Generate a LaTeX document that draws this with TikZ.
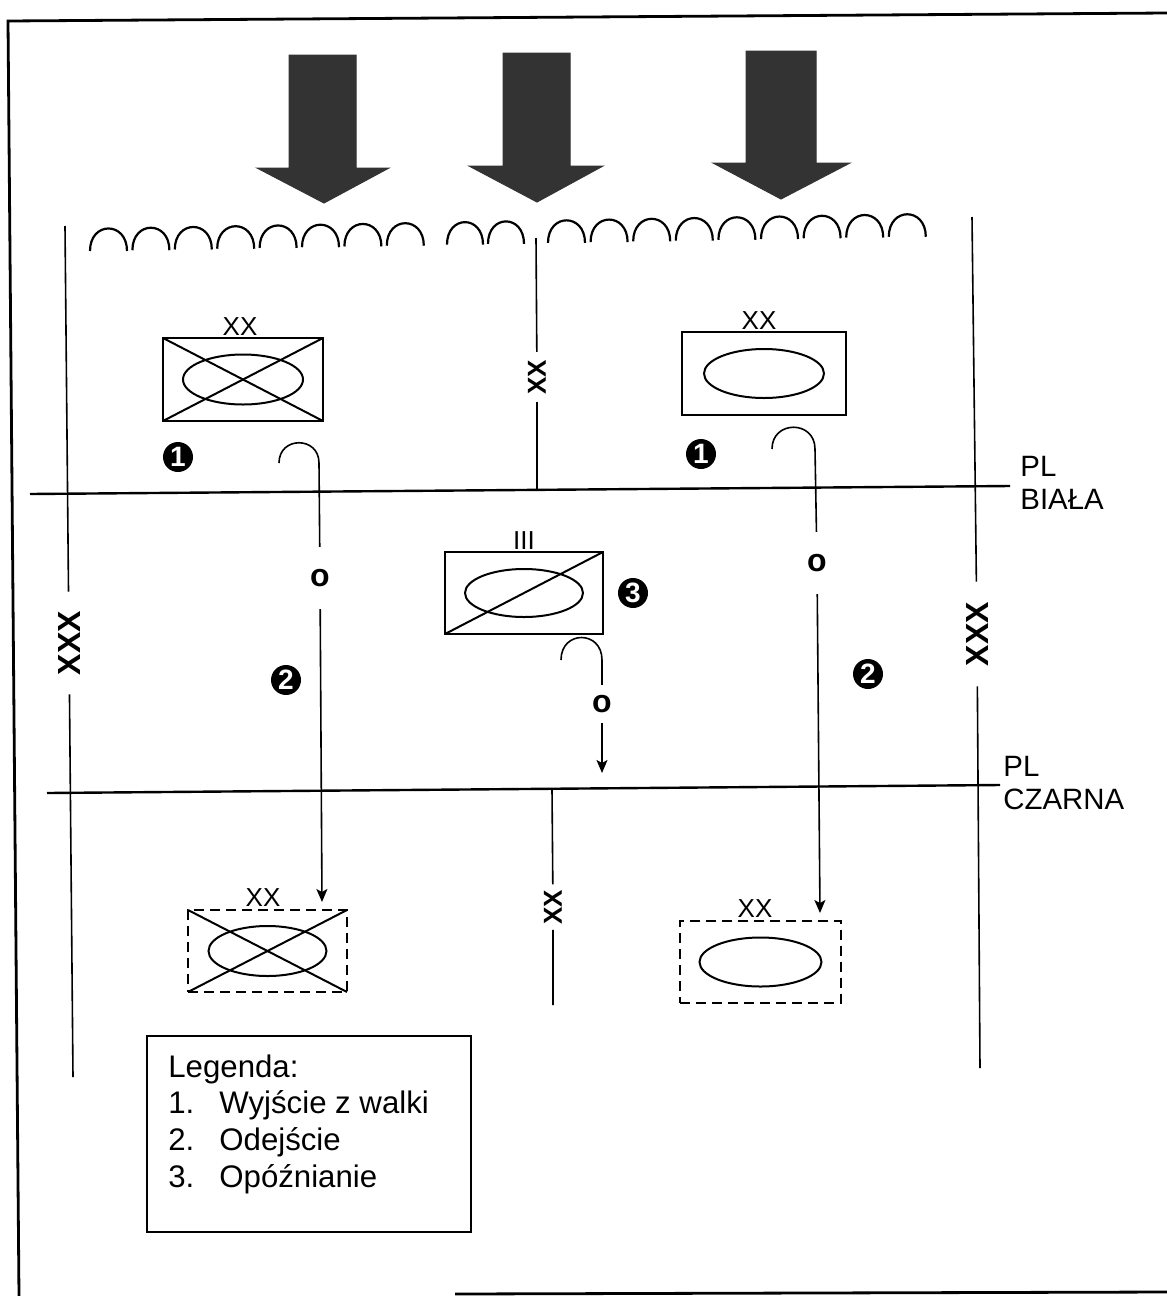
\documentclass[tikz,border=0pt]{standalone}
\usepackage{fontspec}
\setmainfont{Liberation Sans}
\usetikzlibrary{arrows.meta}
\tikzset{
  vline/.style={line width=0.8pt},
  plline/.style={line width=1.2pt},
  framel/.style={line width=1.4pt},
  unitbox/.style={draw, line width=1pt, inner sep=0pt, outer sep=0pt},
  dashbox/.style={unitbox, dash pattern=on 5pt off 3pt},
  unitline/.style={line width=1pt},
  route/.style={line width=0.8pt},
  routearrow/.style={route, -{Stealth[length=6.5pt,width=5.5pt,inset=1.5pt]}},
  scallop/.style={line width=1.1pt},
  bigarrow/.style={fill=black!80, draw=black!80, line width=0.5pt},
  badge/.style={circle, fill=black, text=white, inner sep=0pt, minimum size=15pt,
    font=\bfseries\fontsize{14}{14}\selectfont},
  echtxt/.style={inner sep=0pt, anchor=south, font=\fontsize{13}{15}\selectfont},
  rotxx/.style={rotate=90, inner ysep=0pt, font=\bfseries\fontsize{13}{15}\selectfont},
  rotxxx/.style={rotate=90, inner ysep=0pt, font=\bfseries\fontsize{16}{18}\selectfont},
  osym/.style={inner xsep=0pt, font=\bfseries\fontsize{16}{18}\selectfont},
  pllabel/.style={inner sep=0pt, anchor=base west, font=\fontsize{14.7}{17}\selectfont},
  legtxt/.style={inner sep=0pt, anchor=base west, font=\fontsize{15.6}{18}\selectfont}
}
\begin{document}
\begin{tikzpicture}[x=0.5pt,y=-0.5pt]
\useasboundingbox (0,0) rectangle (1167,1296);

% frame
\draw[framel] (1167,13) -- (8,21) -- (19,1296);
\draw[framel] (455,1294) -- (1167,1292);

% big arrows
\fill[bigarrow] (289,55) -- (356,55) -- (356,168) -- (389,168) -- (324,203) -- (257,168) -- (289,168) -- cycle;
\fill[bigarrow] (503,53) -- (570,53) -- (570,166) -- (603,166) -- (537,202) -- (469,166) -- (503,166) -- cycle;
\fill[bigarrow] (746,51) -- (816,51) -- (816,163) -- (850,163) -- (781,199) -- (713,163) -- (746,163) -- cycle;

% scallops
\foreach \xa/\w in {90/37,132.4/37,174.8/37,217.2/37,259.6/37,302/37,344.4/37,386.8/37,447/36,488/36,548/37,590.6/37,633.2/37,675.8/37,718.4/37,761/37,803.6/37,846.2/37,888.8/37}{
  \pgfmathsetmacro\yb{251-(\xa-89)*0.0178}
  \pgfmathsetmacro\yc{\yb-30}
  \pgfmathsetmacro\xb{\xa+\w}
  \draw[scallop] (\xa,\yb) .. controls (\xa,\yc) and (\xb,\yc) .. (\xb,\yb);
}

% phase lines
\coordinate (bL) at (30,494);
\coordinate (bR) at (1010,486);
\coordinate (cL) at (47,793);
\coordinate (cR) at (1000,785);
\draw[plline] (bL) -- (bR);
\draw[plline] (cL) -- (cR);
\node[pllabel] (pl1) at (1020,476) {PL};
\node[pllabel] (biala) at (1020,509) {BIAŁA};
\node[pllabel] (pl2) at (1003,776) {PL};
\node[pllabel] (czarna) at (1003,809) {CZARNA};

% boundary lines
\node[rotxxx, inner xsep=9.5pt] (lxxx) at (69,643) {XXX};
\node[rotxxx, inner xsep=10pt] (rxxx) at (977,634) {XXX};
\node[rotxx, inner xsep=3.75pt] (cxx) at (537,377) {XX};
\node[rotxx, inner xsep=2.5pt] (bxx) at (553,907) {XX};
\coordinate (lt) at (65,226);
\coordinate (lb) at (73,1077);
\coordinate (rt) at (972,217);
\coordinate (rb) at (980,1068);
\coordinate (ct) at (536,238);
\coordinate (cb) at (537,490);
\coordinate (dt) at (552,789);
\coordinate (db) at (553,1005);
\draw[vline] (lt) -- (lxxx) -- (lb);
\draw[vline] (rt) -- (rxxx) -- (rb);
\draw[vline] (ct) -- (cxx) -- (cb);
\draw[vline] (dt) -- (bxx) -- (db);

% upper left unit (crossed)
\node[unitbox, minimum width=80pt, minimum height=41.5pt] (ul) at (243,379.5) {};
\draw[unitline] (ul.center) ellipse[x radius=60, y radius=25];
\draw[unitline] (ul.north west) -- (ul.south east);
\draw[unitline] (ul.south west) -- (ul.north east);
\node[echtxt] (ulx) at (240,336) {XX};

% upper right unit
\node[unitbox, minimum width=82pt, minimum height=41.5pt] (ur) at (764,373.5) {};
\draw[unitline] (ur.center) ellipse[x radius=60, y radius=24.5];
\node[echtxt] (urx) at (759,330) {XX};

% center unit (half crossed)
\node[unitbox, minimum width=79pt, minimum height=41pt] (cu) at (524,593) {};
\draw[unitline] (cu.center) ellipse[x radius=59, y radius=24];
\draw[unitline] (cu.south west) -- (cu.north east);
\node[echtxt] (cux) at (524,550) {III};

% lower left unit (dashed, crossed)
\node[dashbox, minimum width=79.5pt, minimum height=41pt] (bl) at (267.5,951) {};
\draw[unitline] (bl.center) ellipse[x radius=59, y radius=25];
\draw[unitline] (bl.north west) -- (bl.south east);
\draw[unitline] (bl.south west) -- (bl.north east);
\node[echtxt] (blx) at (263,907) {XX};

% lower right unit (dashed)
\node[dashbox, minimum width=80.5pt, minimum height=41pt] (br) at (760.5,962) {};
\draw[unitline] (br.center) ellipse[x radius=61, y radius=24.5];
\node[echtxt] (brx) at (755,918) {XX};

% routes
\node[osym, inner ysep=11pt] (o1) at (320,578) {o};
\node[osym, inner ysep=11pt] (o2) at (817,563) {o};
\node[osym, inner ysep=5pt] (o3) at (602,704) {o};
\coordinate (h1) at (279,463);
\coordinate (h1e) at (319,463);
\coordinate (t1) at (322,902);
\coordinate (h2) at (772,449);
\coordinate (h2e) at (815,449);
\coordinate (t2) at (820,913);
\coordinate (h3) at (561,660);
\coordinate (h3e) at (602,660);
\coordinate (t3) at (602,773);
\draw[route] (h1) .. controls (279,436) and (319,436) .. (h1e) -- (o1);
\draw[routearrow] (o1) -- (t1);
\draw[route] (h2) .. controls (772,420) and (815,420) .. (h2e) -- (o2);
\draw[routearrow] (o2) -- (t2);
\draw[route] (h3) .. controls (561,630) and (602,630) .. (h3e) -- (o3);
\draw[routearrow] (o3) -- (t3);

% badges
\node[badge] (b1l) at (178,457) {1};
\node[badge] (b1r) at (701,454) {1};
\node[badge] (b2l) at (286,680) {2};
\node[badge] (b2r) at (868,674) {2};
\node[badge] (b3) at (633,593) {3};

% legend
\node[draw, line width=1pt, inner sep=0pt, minimum width=162pt, minimum height=98pt] (leg) at (309,1134) {};
\node[legtxt] (lg0) at (168,1077) {Legenda:};
\node[legtxt] (lg1n) at (168,1113) {1.};
\node[legtxt] (lg1) at (219,1113) {Wyjście z walki};
\node[legtxt] (lg2n) at (168,1150) {2.};
\node[legtxt] (lg2) at (219,1150) {Odejście};
\node[legtxt] (lg3n) at (168,1187) {3.};
\node[legtxt] (lg3) at (219,1187) {Opóźnianie};
\end{tikzpicture}
\end{document}
